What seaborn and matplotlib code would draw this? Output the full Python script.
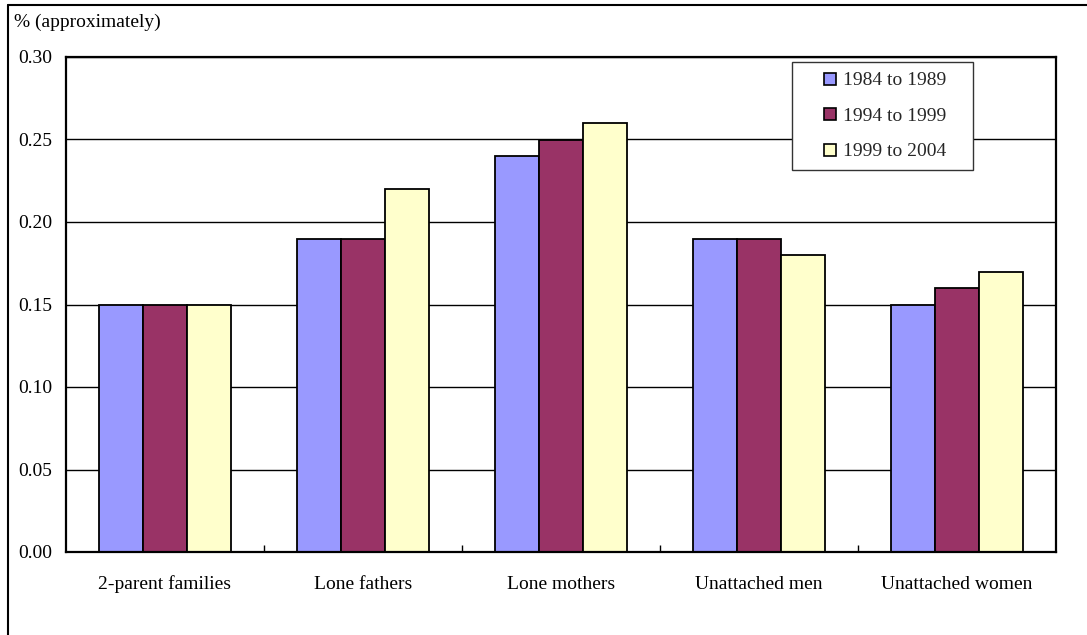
import matplotlib
matplotlib.use("Agg")
import matplotlib.pyplot as plt
from matplotlib.lines import Line2D
from matplotlib.ticker import FixedLocator, FormatStrFormatter, MultipleLocator
import seaborn as sns
import pandas as pd

# Low-income rates by family type and period
categories = ["2-parent families", "Lone fathers", "Lone mothers",
              "Unattached men", "Unattached women"]
periods = ["1984 to 1989", "1994 to 1999", "1999 to 2004"]
rate_1984_1989 = [0.15, 0.19, 0.24, 0.19, 0.15]
rate_1994_1999 = [0.15, 0.19, 0.25, 0.19, 0.16]
rate_1999_2004 = [0.15, 0.22, 0.26, 0.18, 0.17]
colors = ["#9999FF", "#993366", "#FFFFCC"]

df = pd.DataFrame({
    "category": categories * 3,
    "period": [periods[0]] * 5 + [periods[1]] * 5 + [periods[2]] * 5,
    "rate": rate_1984_1989 + rate_1994_1999 + rate_1999_2004,
})

sns.set_theme(style="white")
plt.rcParams["font.family"] = ["Liberation Serif", "DejaVu Serif"]

W, H = 1087, 635
fig = plt.figure(figsize=(W / 100, H / 100), dpi=100)
ax = fig.add_axes([66 / W, 1 - 552 / H, (1056 - 66) / W, (552 - 57) / H])

sns.barplot(data=df, x="category", y="rate", hue="period", order=categories,
            hue_order=periods, palette=colors, width=0.667, ax=ax,
            edgecolor="black", linewidth=1.3, legend=False, saturation=1)

ax.set_ylim(0, 0.30)
ax.set_xlim(-0.5, len(categories) - 0.5)
ax.yaxis.set_major_locator(MultipleLocator(0.05))
ax.yaxis.set_major_formatter(FormatStrFormatter("%.2f"))
ax.set_axisbelow(True)
ax.grid(axis="y", color="black", linewidth=1.0)
ax.grid(axis="x", visible=False)
ax.set_xlabel("")
ax.set_ylabel("")

for s in ax.spines.values():
    s.set_color("black")
    s.set_linewidth(1.6)

ax.tick_params(axis="y", length=0, pad=10, labelsize=14, colors="black")
ax.tick_params(axis="x", which="major", length=0, pad=17, labelsize=14,
               colors="black")
ax.xaxis.set_minor_locator(FixedLocator([i + 0.5 for i in range(len(categories) - 1)]))
ax.tick_params(axis="x", which="minor", direction="in", length=5, width=1,
               color="black", bottom=True)

# Legend with square swatches
handles = [Line2D([], [], linestyle="none", marker="s", markersize=8.5,
                  markerfacecolor=c, markeredgecolor="black",
                  markeredgewidth=1.2) for c in colors]
leg = fig.legend(handles, periods, loc="upper left",
                 bbox_to_anchor=(792 / W, 1 - 166 / H, (973 - 792) / W, (166 - 62) / H),
                 mode="expand", fontsize=14, frameon=True, fancybox=False,
                 framealpha=1, borderpad=0.5, labelspacing=0.92,
                 handlelength=2.9, handletextpad=-0.8, borderaxespad=0)
leg.get_frame().set_edgecolor("#333333")
leg.get_frame().set_linewidth(1.0)

fig.text(14 / W, 1 - 22 / H, "% (approximately)", fontsize=14,
         va="center", ha="left", color="black")

# Outer chart frame
fx, fy = 8 / W, 1 - 5 / H
fig.add_artist(Line2D([fx, fx], [0, fy], color="black", linewidth=1.5,
                      transform=fig.transFigure))
fig.add_artist(Line2D([fx, 1], [fy, fy], color="black", linewidth=1.5,
                      transform=fig.transFigure))

fig.savefig("out.png", dpi=100, facecolor="white")
